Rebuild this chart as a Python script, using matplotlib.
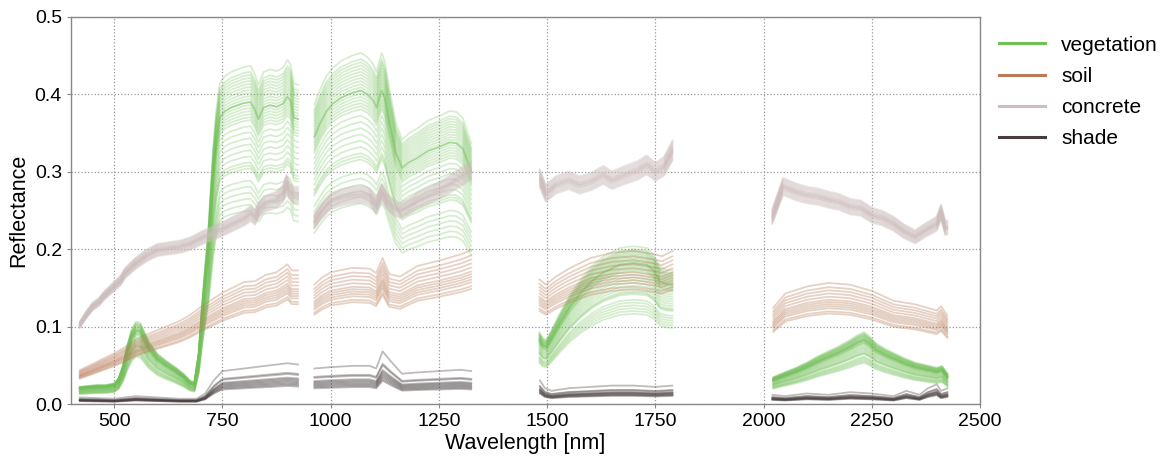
import numpy as np
import matplotlib
matplotlib.use("Agg")
import matplotlib.pyplot as plt
from matplotlib.lines import Line2D

plt.rcParams['font.family'] = ['Liberation Sans', 'DejaVu Sans']

# ---- Spectral library: typical spectrum per class in four windows (water bands omitted) ----
# Vegetation
veg_wl_1 = [420, 440, 460, 480, 500, 510, 520, 530, 540, 550, 560, 570, 580, 600, 620, 640, 660,
            675, 685, 695, 702, 710, 717, 723, 729, 736, 744, 755, 770, 785, 800, 815, 825, 833,
            845, 860, 875, 890, 900, 907, 915, 925]
veg_r_1 = [0.020, 0.021, 0.022, 0.022, 0.024, 0.030, 0.045, 0.068, 0.086, 0.095, 0.094, 0.083,
           0.072, 0.058, 0.050, 0.043, 0.035, 0.027, 0.025, 0.060, 0.110, 0.160, 0.200, 0.250,
           0.300, 0.340, 0.370, 0.378, 0.383, 0.386, 0.389, 0.390, 0.380, 0.368, 0.383, 0.386,
           0.384, 0.388, 0.397, 0.392, 0.370, 0.368]
veg_wl_2 = [962, 975, 990, 1005, 1025, 1050, 1070, 1085, 1098, 1106, 1112, 1118, 1125, 1135,
            1150, 1165, 1180, 1200, 1225, 1250, 1275, 1290, 1305, 1315, 1325]
veg_r_2 = [0.345, 0.362, 0.378, 0.388, 0.396, 0.402, 0.405, 0.400, 0.392, 0.383, 0.395, 0.405,
           0.395, 0.365, 0.325, 0.305, 0.312, 0.318, 0.327, 0.332, 0.338, 0.337, 0.330, 0.315,
           0.300]
veg_wl_3 = [1482, 1490, 1498, 1510, 1530, 1553, 1580, 1606, 1630, 1668, 1700, 1730, 1745, 1761,
            1775, 1790]
veg_r_3 = [0.083, 0.076, 0.074, 0.085, 0.105, 0.126, 0.145, 0.160, 0.170, 0.180, 0.182, 0.180,
           0.173, 0.158, 0.155, 0.154]
veg_wl_4 = [2022, 2050, 2075, 2100, 2125, 2150, 2175, 2200, 2215, 2232, 2245, 2260, 2280, 2300,
            2325, 2350, 2375, 2400, 2412, 2425]
veg_r_4 = [0.031, 0.037, 0.042, 0.048, 0.055, 0.061, 0.067, 0.074, 0.079, 0.083, 0.078, 0.070,
           0.064, 0.059, 0.053, 0.048, 0.045, 0.042, 0.044, 0.035]
# brightness of each vegetation sample relative to the typical spectrum
veg_scale = [1.12, 1.10, 1.09, 1.08, 1.07, 1.06, 1.05, 1.04, 1.03, 1.02, 1.01, 1.00, 1.00, 1.00,
             0.99, 0.98, 0.97, 0.96, 0.95, 0.94, 0.92, 0.90, 0.88, 0.86, 0.84, 0.82,
             0.80, 0.79, 0.78, 0.74, 0.72, 0.70, 0.68, 0.66, 0.64]

# Soil
soil_wl_1 = [420, 450, 475, 500, 525, 550, 575, 600, 625, 650, 675, 700, 725, 750, 775, 800,
             825, 850, 875, 900, 910, 925]
soil_r_1 = [0.038, 0.045, 0.051, 0.057, 0.064, 0.072, 0.078, 0.083, 0.088, 0.093, 0.100, 0.109,
            0.117, 0.125, 0.131, 0.137, 0.138, 0.145, 0.148, 0.157, 0.150, 0.150]
soil_wl_2 = [962, 980, 1000, 1050, 1090, 1105, 1120, 1135, 1160, 1180, 1200, 1250, 1300, 1325]
soil_r_2 = [0.134, 0.142, 0.148, 0.153, 0.152, 0.147, 0.164, 0.146, 0.143, 0.149, 0.155, 0.161,
            0.168, 0.173]
soil_wl_3 = [1482, 1497, 1520, 1550, 1600, 1650, 1700, 1750, 1765, 1790]
soil_r_3 = [0.140, 0.134, 0.143, 0.152, 0.164, 0.170, 0.172, 0.168, 0.166, 0.172]
soil_wl_4 = [2022, 2050, 2100, 2150, 2200, 2250, 2300, 2350, 2400, 2410, 2425]
soil_r_4 = [0.108, 0.124, 0.132, 0.136, 0.134, 0.127, 0.116, 0.112, 0.105, 0.110, 0.099]
soil_scale = [0.86, 0.88, 0.91, 0.93, 0.95, 0.97, 0.99, 1.02, 1.05, 1.08, 1.11, 1.15]

# Concrete
conc_wl_1 = [420, 435, 450, 465, 475, 490, 500, 515, 525, 540, 550, 565, 575, 600, 625, 650, 675,
             700, 725, 750, 775, 800, 815, 825, 835, 850, 875, 890, 898, 905, 915, 925]
conc_r_1 = [0.102, 0.115, 0.126, 0.132, 0.139, 0.147, 0.152, 0.160, 0.169, 0.177, 0.182, 0.188,
            0.192, 0.199, 0.201, 0.203, 0.207, 0.214, 0.220, 0.226, 0.233, 0.240, 0.246, 0.241,
            0.252, 0.259, 0.264, 0.272, 0.285, 0.275, 0.270, 0.270]
conc_wl_2 = [962, 980, 1000, 1025, 1050, 1075, 1090, 1105, 1118, 1130, 1145, 1160, 1180, 1200,
             1225, 1250, 1275, 1300, 1325]
conc_r_2 = [0.236, 0.250, 0.262, 0.267, 0.270, 0.271, 0.268, 0.256, 0.274, 0.262, 0.254, 0.250,
            0.255, 0.263, 0.269, 0.276, 0.284, 0.293, 0.302]
conc_wl_3 = [1483, 1497, 1520, 1550, 1575, 1600, 1630, 1650, 1680, 1710, 1730, 1750, 1770, 1790]
conc_r_3 = [0.292, 0.272, 0.283, 0.289, 0.283, 0.287, 0.296, 0.289, 0.296, 0.302, 0.309, 0.300,
            0.307, 0.328]
conc_wl_4 = [2020, 2045, 2075, 2100, 2125, 2150, 2175, 2200, 2225, 2250, 2275, 2300, 2325, 2350,
             2375, 2400, 2410, 2420, 2425]
conc_r_4 = [0.242, 0.281, 0.274, 0.270, 0.268, 0.264, 0.261, 0.255, 0.253, 0.244, 0.240, 0.233,
            0.223, 0.216, 0.225, 0.233, 0.248, 0.227, 0.228]
conc_scale = [0.96, 0.965, 0.97, 0.975, 0.98, 0.985, 0.99, 0.99, 0.995, 1.0, 1.0, 1.0, 1.005,
              1.01, 1.01, 1.015, 1.02, 1.025, 1.03, 1.035, 1.04]

# Shade
shade_wl_1 = [420, 500, 550, 600, 650, 690, 710, 730, 750, 800, 850, 900, 925]
shade_r_1 = [0.005, 0.004, 0.006, 0.005, 0.004, 0.004, 0.008, 0.018, 0.025, 0.027, 0.029, 0.031,
             0.030]
shade_wl_2 = [962, 1000, 1050, 1090, 1105, 1120, 1140, 1165, 1200, 1250, 1300, 1325]
shade_r_2 = [0.027, 0.028, 0.029, 0.029, 0.027, 0.040, 0.032, 0.023, 0.024, 0.025, 0.026, 0.025]
shade_wl_3 = [1483, 1495, 1510, 1550, 1600, 1650, 1700, 1750, 1790]
shade_r_3 = [0.018, 0.012, 0.010, 0.012, 0.013, 0.014, 0.014, 0.013, 0.014]
shade_wl_4 = [2020, 2050, 2100, 2150, 2200, 2250, 2300, 2330, 2360, 2380, 2400, 2410, 2425]
shade_r_4 = [0.007, 0.006, 0.008, 0.007, 0.009, 0.008, 0.006, 0.010, 0.007, 0.012, 0.015, 0.010,
             0.012]
shade_scale = [0.75, 0.80, 0.85, 0.90, 0.95, 1.00, 1.05, 1.10, 1.25, 1.30, 1.70]

class_names = ['vegetation', 'soil', 'concrete', 'shade']
class_colors = ['#72c058', '#b97c5a', '#cdbdbd', '#483d3d']
class_alpha = [0.28, 0.35, 0.35, 0.35]


def join_windows(wls, refl):
    """Concatenate spectral windows, separated by NaN so the gaps stay empty."""
    xs, ys = [], []
    for w, r in zip(wls, refl):
        xs.extend(w + [np.nan])
        ys.extend(r + [np.nan])
    return np.array(xs, dtype=float), np.array(ys, dtype=float)


classes = [
    ([veg_wl_1, veg_wl_2, veg_wl_3, veg_wl_4], [veg_r_1, veg_r_2, veg_r_3, veg_r_4], veg_scale),
    ([soil_wl_1, soil_wl_2, soil_wl_3, soil_wl_4], [soil_r_1, soil_r_2, soil_r_3, soil_r_4], soil_scale),
    ([conc_wl_1, conc_wl_2, conc_wl_3, conc_wl_4], [conc_r_1, conc_r_2, conc_r_3, conc_r_4], conc_scale),
    ([shade_wl_1, shade_wl_2, shade_wl_3, shade_wl_4], [shade_r_1, shade_r_2, shade_r_3, shade_r_4], shade_scale),
]

fig = plt.figure(figsize=(11.71, 4.59), dpi=100)
ax = fig.add_axes([0.0606, 0.1198, 0.7763, 0.8432])

for (wls, refl, scales), color, a in zip(classes, class_colors, class_alpha):
    x, y = join_windows(wls, refl)
    for s in scales:
        ax.plot(x, y * s, color=color, lw=1.3, alpha=a, solid_capstyle='round')

ax.set_xlim(400, 2500)
ax.set_ylim(0, 0.5)
ax.set_xticks([500, 750, 1000, 1250, 1500, 1750, 2000, 2250, 2500])
ax.set_yticks([0.0, 0.1, 0.2, 0.3, 0.4, 0.5])
ax.tick_params(labelsize=14, direction='out', length=3, color='#888888')
ax.grid(True, linestyle=':', color='#999999', linewidth=0.9)
for sp in ax.spines.values():
    sp.set_color('#888888')
    sp.set_linewidth(1.0)

ax.set_xlabel('Wavelength [nm]', fontsize=15.5, labelpad=2)
ax.set_ylabel('Reflectance', fontsize=15.5, labelpad=4)

handles = [Line2D([], [], color=c, lw=2.2) for c in class_colors]
ax.legend(handles, class_names, loc='upper left', bbox_to_anchor=(1.0, 1.0), frameon=False,
          fontsize=15, handlelength=2.2, handletextpad=0.8, labelspacing=0.58)

fig.savefig('out.png', dpi=100)
